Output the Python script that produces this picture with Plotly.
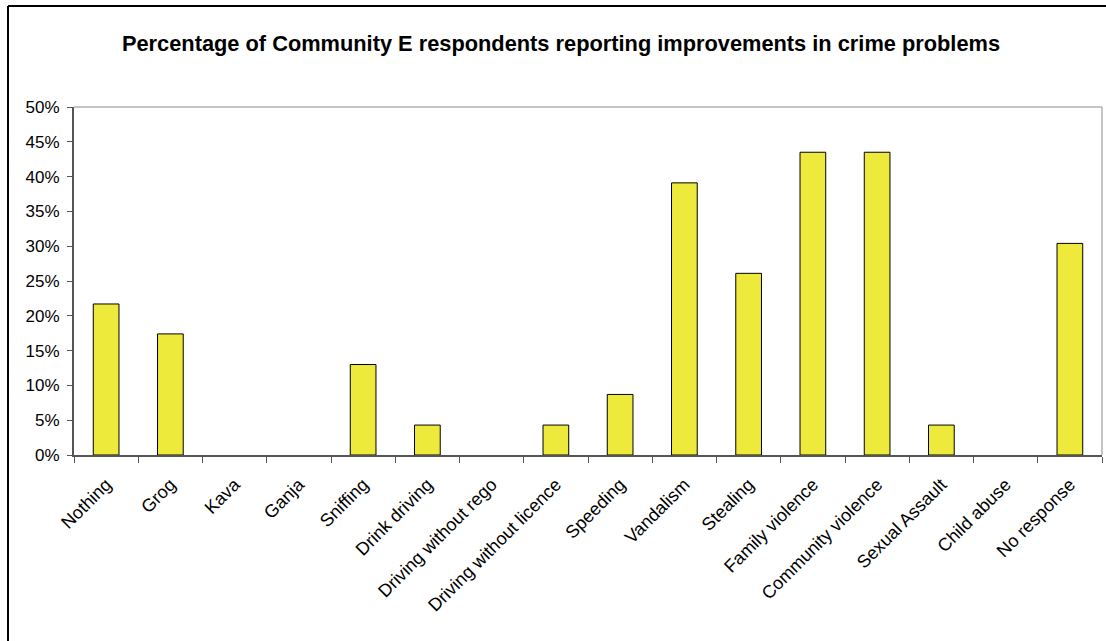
import plotly.graph_objects as go

categories = ["Nothing", "Grog", "Kava", "Ganja", "Sniffing", "Drink driving",
              "Driving without rego", "Driving without licence", "Speeding",
              "Vandalism", "Stealing", "Family violence", "Community violence",
              "Sexual Assault", "Child abuse", "No response"]
values = [0.217, 0.174, 0.0, 0.0, 0.130, 0.043, 0.0, 0.043, 0.087,
          0.391, 0.261, 0.435, 0.435, 0.043, 0.0, 0.304]
y_ticks = [0, 0.05, 0.10, 0.15, 0.20, 0.25, 0.30, 0.35, 0.40, 0.45, 0.50]
y_ticklabels = ["0%", "5%", "10%", "15%", "20%", "25%", "30%", "35%", "40%", "45%", "50%"]
title = "Percentage of Community E respondents reporting improvements in crime problems"

W, H = 1106, 641
L, R, T, B = 74, 4, 107, 186
pw, ph = W - L - R, H - T - B

fig = go.Figure()
fig.add_trace(go.Bar(
    x=categories, y=values,
    marker=dict(color="#EEEA3C",
                line=dict(color="#000000", width=[1 if v > 0 else 0 for v in values])),
    width=0.4,
))

def px_x(p):
    return (p - L) / pw

def px_y(p):
    return 1 + (T - p) / ph

fig.update_layout(
    width=W, height=H,
    margin=dict(l=L, r=R, t=T, b=B),
    paper_bgcolor="white", plot_bgcolor="white",
    showlegend=False,
    font=dict(family="Liberation Sans, Arial, sans-serif", color="#000000", size=17),
    title=dict(text="<b>" + title + "</b>", x=561 / W, xanchor="center",
               y=1 - 43 / H, yanchor="middle", yref="container",
               font=dict(size=21.8, color="#000000")),
    xaxis=dict(
        type="category", tickangle=-45, tickson="boundaries",
        ticks="outside", ticklen=6, tickcolor="#555555",
        showline=True, linecolor="#555555", linewidth=2,
        showgrid=False, tickfont=dict(size=18), ticklabelstandoff=10,
    ),
    yaxis=dict(
        range=[0, 0.5], tickvals=y_ticks, ticktext=y_ticklabels,
        ticks="outside", ticklen=5, tickcolor="#555555",
        showline=True, linecolor="#555555", linewidth=2,
        showgrid=False, zeroline=False, tickfont=dict(size=17),
        ticklabelstandoff=4,
    ),
    shapes=[
        dict(type="line", xref="paper", yref="paper", x0=0, x1=1, y0=1, y1=1,
             line=dict(color="#8a8a8a", width=1)),
        dict(type="line", xref="paper", yref="paper", x0=1, x1=1, y0=0, y1=1,
             line=dict(color="#8a8a8a", width=1)),
        dict(type="line", xref="paper", yref="paper", x0=px_x(8), x1=px_x(1110),
             y0=px_y(6), y1=px_y(6), line=dict(color="#000000", width=2)),
        dict(type="line", xref="paper", yref="paper", x0=px_x(8), x1=px_x(8),
             y0=px_y(6), y1=px_y(700), line=dict(color="#000000", width=2)),
    ],
)

fig.write_html("out.html")
